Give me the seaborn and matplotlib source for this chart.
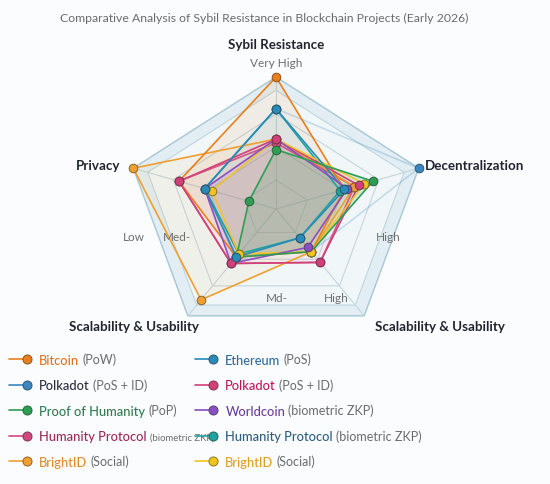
import numpy as np
import matplotlib.pyplot as plt
import seaborn as sns
from matplotlib.lines import Line2D
from matplotlib.legend_handler import HandlerLine2DCompound

# Radar axes, clockwise from the top
axis_labels = ["Sybil Resistance", "Decentralization", "Scalability & Usability",
               "Scalability & Usability", "Privacy"]

# Series (legend order: left column, then right column)
names = ["Bitcoin", "Polkadot", "Proof of Humanity", "Humanity Protocol", "BrightID",
         "Ethereum", "Polkadot", "Worldcoin", "Humanity Protocol", "BrightID"]
notes = ["(PoW)", "(PoS + ID)", "(PoP)", "(biometric ZKP)", "(Social)",
         "(PoS)", "(PoS + ID)", "(biometric ZKP)", "(biometric ZKP)", "(Social)"]

bitcoin = [1.00, 0.48, 0.40, 0.45, 0.68]
polkadot_id = [0.76, 1.00, 0.40, 0.45, 0.50]
proof_of_humanity = [0.45, 0.68, 0.40, 0.45, 0.19]
humanity_bio = [0.50, 0.55, 0.50, 0.51, 0.68]
brightid = [0.53, 0.55, 0.40, 0.85, 1.00]
ethereum = [0.76, 0.48, 0.27, 0.45, 0.50]
polkadot = [0.53, 0.58, 0.50, 0.51, 0.68]
worldcoin = [0.53, 0.50, 0.36, 0.51, 0.50]
humanity_zkp = [0.76, 0.45, 0.27, 0.42, 0.50]
brightid_social = [0.53, 0.62, 0.40, 0.42, 0.45]

series = [bitcoin, polkadot_id, proof_of_humanity, humanity_bio, brightid,
          ethereum, polkadot, worldcoin, humanity_zkp, brightid_social]

line_colors = ["#E8801E", "#3A86C0", "#2E9E55", "#D0487E", "#F0A030",
               "#2A8AB8", "#D2407A", "#8A4FC0", "#1FA3A0", "#F2C41E"]
text_colors = ["#E0731F", "#2A2E3F", "#2E7D4F", "#9C2A5A", "#E08A2A",
               "#2F6C9E", "#C2185B", "#6A3FA0", "#2E5E7E", "#DDA020"]
line_alpha = [1, 0.25, 1, 0.9, 1, 1, 1, 1, 1, 0.9]
fill_alpha = [0.09, 0.0, 0.16, 0.0, 0.07, 0.08, 0.05, 0.13, 0.0, 0.08]
# which series sits on top where markers coincide
draw_order = [1, 8, 3, 4, 0, 6, 9, 5, 7, 2]
marker_order = [1, 8, 3, 4, 0, 2, 9, 7, 6, 5]

sns.set_theme(style="white")
plt.rcParams["font.family"] = ["Lato", "DejaVu Sans"]

fig = plt.figure(figsize=(5.5, 4.85), dpi=100, facecolor="#FBFCFD")
ax = fig.add_axes([0, 0, 1, 1])
ax.set_xlim(-276 / 150, 274 / 150)
ax.set_ylim(-275 / 132, 210 / 132)
ax.axis("off")

theta = np.linspace(0, 2 * np.pi, len(axis_labels), endpoint=False)
sx, sy = np.sin(theta), np.cos(theta)


def ring(r):
    r = np.asarray(r, dtype=float)
    return np.append(r * sx, r[0] * sx[0]), np.append(r * sy, r[0] * sy[0])


# Pentagon frame and grid
ones = np.ones(len(theta))
ax.fill(*ring(ones), color="#E2EEF3", zorder=0)
ax.fill(*ring(ones * 0.9), color="#F1F7F9", zorder=0)
for lev, c, lw in [(1.0, "#A8C8D6", 1.0), (0.9, "#BBD4DF", 0.8),
                   (0.72, "#C3D6DE", 0.8), (0.47, "#C7D7DE", 0.8), (0.22, "#CCDAE0", 0.8)]:
    ax.plot(*ring(ones * lev), color=c, lw=lw, zorder=1)
for k in range(len(theta)):
    ax.plot([0, sx[k]], [0, sy[k]], color="#C3D5DD", lw=0.8, zorder=1)

# Series polygons
for i in draw_order:
    x, y = ring(series[i])
    c = line_colors[i]
    if fill_alpha[i] > 0:
        ax.fill(x, y, color=c, alpha=fill_alpha[i], lw=0, zorder=2)
    ax.plot(x, y, color=c, lw=1.2, alpha=line_alpha[i], zorder=3)
for i in marker_order:
    x, y = ring(series[i])
    c = line_colors[i]
    ax.plot(x[:-1], y[:-1], ls="none", marker="o", ms=6.2, color=c,
            mec=sns.dark_palette(c, 3)[1], mew=0.7, zorder=4)

# Axis names
bold = dict(fontsize=9.6, fontweight="bold", color="#1F2430")
ax.text(0, 1.25, axis_labels[0], ha="center", va="center", **bold)
ax.text(0.99, 0.33, axis_labels[1], ha="left", va="center", **bold)
ax.text(1.09, -0.89, axis_labels[2], ha="center", va="center", **bold)
ax.text(-0.95, -0.89, axis_labels[3], ha="center", va="center", **bold)
ax.text(-1.04, 0.33, axis_labels[4], ha="right", va="center", **bold)

# Level labels
lvl = dict(fontsize=8.5, color="#6E6E6E", ha="center", va="center")
ax.text(0, 1.11, "Very High", **lvl)
ax.text(-0.947, -0.205, "Low", **lvl)
ax.text(-0.66, -0.205, "Med-", **lvl)
ax.text(0.747, -0.205, "High", **lvl)
ax.text(0.007, -0.674, "Md-", **lvl)
ax.text(0.40, -0.674, "High", **lvl)

fig.text(264 / 550, 1 - 18 / 485,
         "Comparative Analysis of Sybil Resistance in Blockchain Projects (Early 2026)",
         ha="center", va="center", fontsize=8.8, color="#6B6B6B")


class EndMarker(HandlerLine2DCompound):
    def get_xdata(self, legend, xdescent, ydescent, width, height, fontsize):
        return (np.array([-xdescent, -xdescent + width]),
                np.array([-xdescent + width * 0.88]))


handles = [Line2D([], [], color=c, lw=1.2, marker="o", ms=6.5,
                  mec=sns.dark_palette(c, 3)[1], mew=0.7) for c in line_colors]

legends = []
for col, x0 in [(slice(0, 5), 9), (slice(5, 10), 195)]:
    leg = fig.legend(handles[col], names[col], loc="upper left",
                     bbox_to_anchor=(x0 / 550, 1 - 355 / 485), frameon=False,
                     prop=dict(size=9.3, weight="medium"), handlelength=1.6,
                     handletextpad=0.75, labelspacing=1.04, borderaxespad=0, borderpad=0,
                     handler_map={Line2D: EndMarker()})
    for t, c in zip(leg.get_texts(), text_colors[col]):
        t.set_color(c)
    legends.append(leg)

fig.canvas.draw()
all_texts = legends[0].get_texts() + legends[1].get_texts()
note_sizes = [9.0, 9.0, 9.0, 6.8, 9.0, 9.0, 9.0, 9.0, 9.0, 9.0]
for t, note, fs in zip(all_texts, notes, note_sizes):
    ax.annotate(note, xy=(1, 0), xycoords=t, xytext=(2, 0.5), textcoords="offset points",
                ha="left", va="bottom", fontsize=fs, color="#6B6B6B",
                annotation_clip=False, zorder=10)

fig.savefig("out.png", dpi=100, facecolor=fig.get_facecolor())
